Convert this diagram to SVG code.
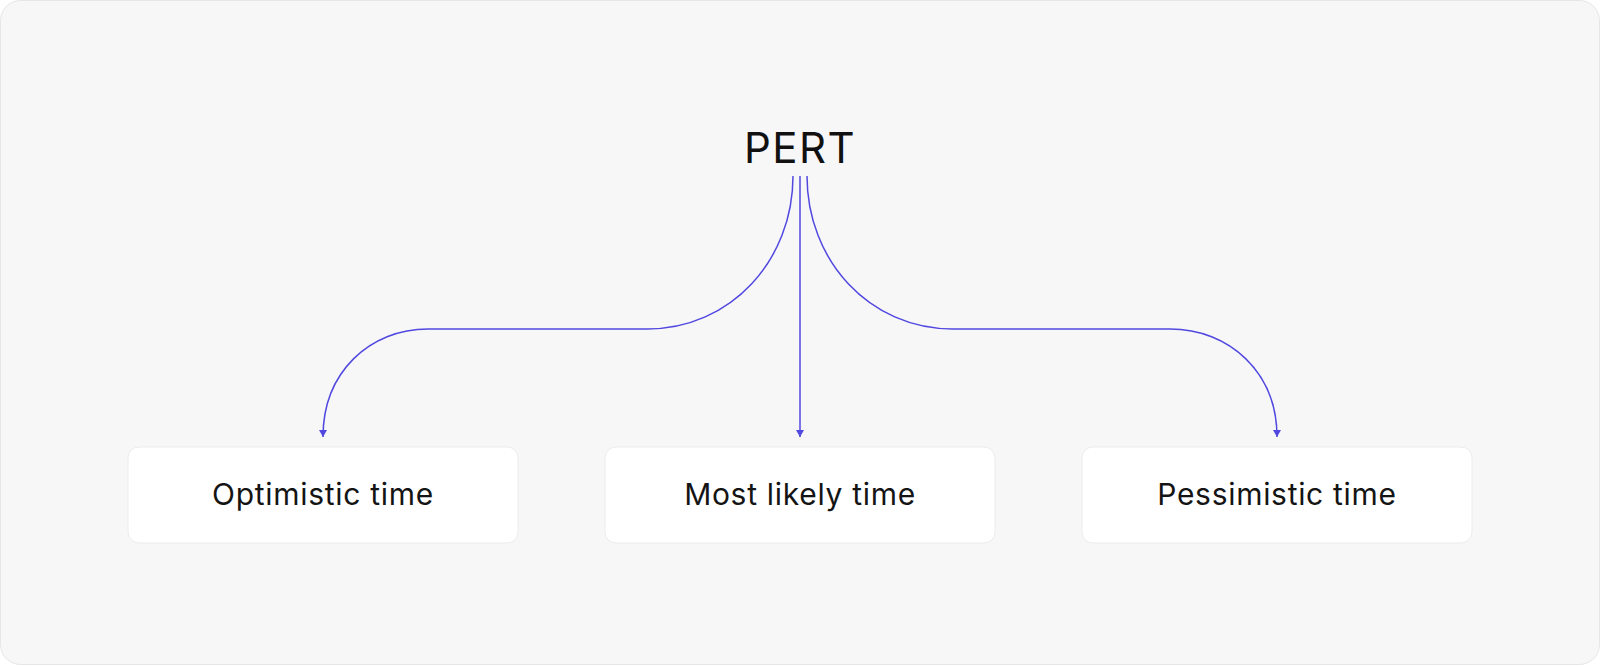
<svg xmlns="http://www.w3.org/2000/svg" width="1600" height="666" viewBox="0 0 1600 666">
<defs>
<style>
.bg{fill:#f7f7f8;stroke:#e6e6e8;stroke-width:1}
.node rect{fill:#ffffff;stroke:#ececee;stroke-width:1}
.lbl{font-family:Inter,"Noto Sans",sans-serif;font-size:30px;letter-spacing:0.7px;fill:#141414;text-anchor:middle}
.title{font-family:Inter,"Noto Sans",sans-serif;font-size:42px;letter-spacing:1.5px;fill:#111111;text-anchor:middle}
.conn path{fill:none;stroke:#5148e0;stroke-width:1.5}
</style>
<marker id="arr" viewBox="0 0 7 8" refX="7" refY="4" markerWidth="7" markerHeight="8" markerUnits="userSpaceOnUse" orient="auto">
<path d="M0,0 L7,4 L0,8 Z" fill="#5148e0"/>
</marker>
</defs>
<rect class="bg" x="0.5" y="0.5" width="1599" height="664" rx="20" ry="20"/>
<g id="pert">
<text class="title" x="800" y="163">PERT</text>
</g>
<g class="conn" id="connectors">
<path d="M793,176 C793,260 731,329 647,329 L428,329 C370,329 323,372 323,437" marker-end="url(#arr)"/>
<path d="M800,176 L800,437" marker-end="url(#arr)"/>
<path d="M807,176 C807,260 869,329 953,329 L1170,329 C1229,329 1277,372 1277,437" marker-end="url(#arr)"/>
</g>
<g id="optimistic" class="node">
<rect x="128" y="447" width="390" height="96" rx="11"/>
<text class="lbl" x="323" y="505">Optimistic time</text>
</g>
<g id="mostlikely" class="node">
<rect x="605" y="447" width="390" height="96" rx="11"/>
<text class="lbl" x="800" y="505">Most likely time</text>
</g>
<g id="pessimistic" class="node">
<rect x="1082" y="447" width="390" height="96" rx="11"/>
<text class="lbl" x="1277" y="505">Pessimistic time</text>
</g>
</svg>
